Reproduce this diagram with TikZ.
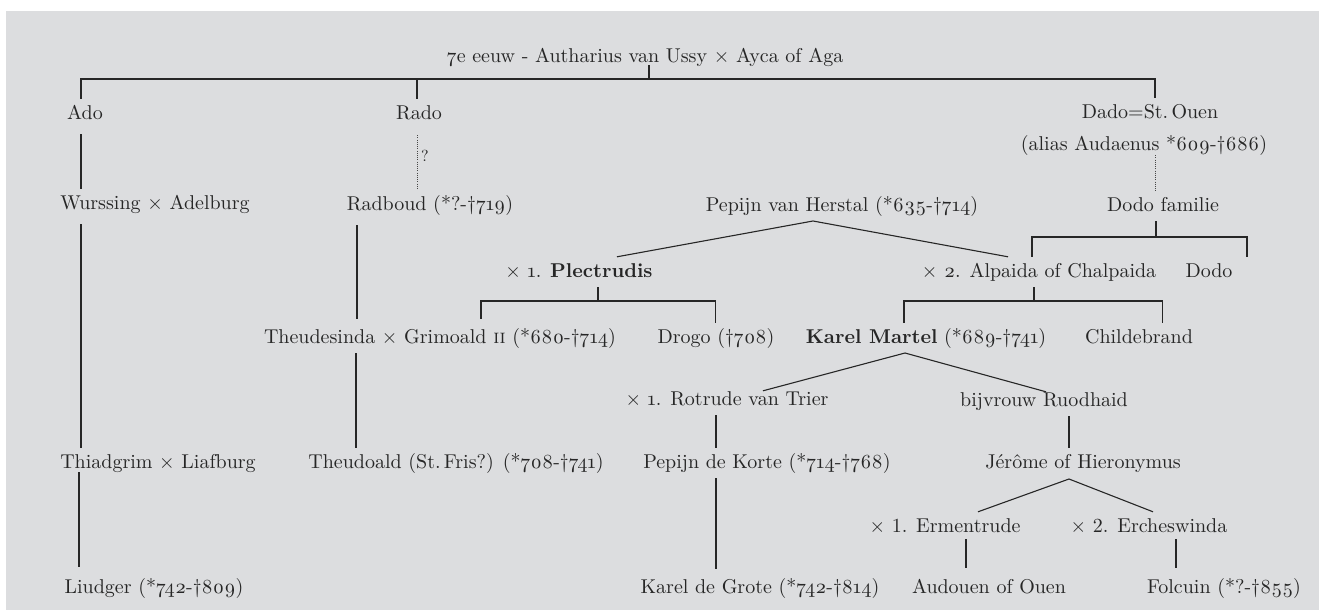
\documentclass[tikz,border=0pt]{standalone}
\usepackage{fontspec}
\setmainfont{lmroman10-regular.otf}[BoldFont=lmroman10-bold.otf, SmallCapsFont=lmromancaps10-regular.otf, Ligatures=TeX]
\usepackage{tikz}
\definecolor{bg}{RGB}{220,221,223}
\definecolor{ink}{RGB}{38,38,38}
\newcommand{\os}[1]{\oldstylenums{#1}}
\begin{document}
\begin{tikzpicture}[x=1pt,y=-1pt,
  person/.style={anchor=base, inner sep=0pt, text height=20pt, text depth=10pt,
    font=\fontsize{20}{24}\selectfont, text=ink},
  link/.style={draw=ink, line width=1.1pt},
  doubt/.style={draw=ink!85, line width=0.9pt, dash pattern=on 1pt off 1.2pt}]
\useasboundingbox (0,0) rectangle (1319,610);
\fill[bg] (6,11) rectangle (1319,610);

% nodes
\node[person, text depth=2pt] (top) at (645,63) {\os{7}e eeuw - Autharius van Ussy × Ayca of Aga};
\node[person] (ado) at (85,119) {Ado};
\node[person] (rado) at (419,119) {Rado};
\node[person] (dado) at (1150,118) {Dado=St.\,Ouen};
\node[person, text depth=5pt] (alias) at (1144,150) {(alias Audaenus *\os{609}-†\os{686})};
\node[person] (wurssing) at (155,209) {Wurssing × Adelburg};
\node[person] (radboud) at (430,210) {Radboud (*?-†\os{719})};
\node[person] (pepijn) at (842,211) {Pepijn van Herstal (*\os{635}-†\os{714})};
\node[person] (dodofam) at (1163,211) {Dodo familie};
\node[person] (plect) at (579,277) {× \os{1}. \textbf{Plectrudis}};
\node[person] (alpaida) at (1039,277) {× \os{2}. Alpaida of Chalpaida};
\node[person] (dodo) at (1209,277) {Dodo};
\node[person] (theude) at (440,343) {Theudesinda × Grimoald \textsc{ii} (*\os{680}-†\os{714})};
\node[person] (drogo) at (716,343) {Drogo (†\os{708})};
\node[person] (karel) at (926,343) {\textbf{Karel Martel} (*\os{689}-†\os{741})};
\node[person] (childe) at (1139,343) {Childebrand};
\node[person] (rotrude) at (727,405) {× \os{1}. Rotrude van Trier};
\node[person] (bijvrouw) at (1044,406) {bijvrouw Ruodhaid};
\node[person] (thiad) at (158,468) {Thiadgrim × Liafburg};
\node[person] (theudoald) at (456,468) {Theudoald (St.\,Fris?) (*\os{708}-†\os{741})};
\node[person] (pepkorte) at (767,468) {Pepijn de Korte (*\os{714}-†\os{768})};
\node[person] (jerome) at (1083,468) {Jérôme of Hieronymus};
\node[person] (ermen) at (945,532) {× 1. Ermentrude};
\node[person] (erches) at (1149,532) {× 2. Ercheswinda};
\node[person] (liudger) at (154,593) {Liudger (*\os{742}-†\os{809})};
\node[person] (karelg) at (760,593) {Karel de Grote (*\os{742}-†\os{814})};
\node[person] (audouen) at (989,593) {Audouen of Ouen};
\node[person] (folcuin) at (1224,593) {Folcuin (*?-†\os{855})};
\node[anchor=center, inner sep=0pt, font=\fontsize{16}{18}\selectfont, text=ink] (q) at (425,156) {?};

% junction coordinates
\coordinate (j0) at (649,79);
\coordinate (j0L) at (81,79);
\coordinate (j0M) at (417,79);
\coordinate (j0R) at (1155,79);
\coordinate (jp) at (813,221);
\coordinate (jpl) at (598,301);
\coordinate (jplL) at (481,301);
\coordinate (jplR) at (715.5,301);
\coordinate (jdf) at (1156,237);
\coordinate (jdfL) at (1032,237);
\coordinate (jdfR) at (1247,237);
\coordinate (jal) at (1034,301);
\coordinate (jalL) at (904,301);
\coordinate (jalR) at (1162.5,301);
\coordinate (jk) at (905,353);
\coordinate (jj) at (1069,479);

% connectors
\draw[link] (649,0 |- top.south) -- (j0);
\draw[link] (81,0 |- ado.north) -- (j0L) -- (j0R) -- (1155,0 |- dado.north);
\draw[link] (j0M) -- (417,0 |- rado.north);

\draw[link] ([yshift=-5pt]81,0 |- ado.south) -- (81,0 |- wurssing.north);
\draw[doubt] ([yshift=-6pt]417,0 |- rado.south) -- (417,0 |- radboud.north);
\draw[doubt] (1155,0 |- alias.south) -- (1155,0 |- dodofam.north);

\draw[link] ([yshift=-5pt]81,0 |- wurssing.south) -- (81,0 |- thiad.north);
\draw[link] ([yshift=6pt]79,0 |- thiad.south) -- ([yshift=6pt]79,0 |- liudger.north);
\draw[link] ([yshift=-5pt]357,0 |- radboud.south) -- ([yshift=4pt]357,0 |- theude.north);
\draw[link] (356,0 |- theude.south) -- (356,0 |- theudoald.north);

\draw[link] (617,0 |- plect.north) -- (jp) -- (1008,0 |- alpaida.north);
\draw[link] (jpl) -- (598,0 |- plect.south);
\draw[link] ([yshift=4pt]481,0 |- theude.north) -- (jplL) -- (jplR) -- (715.5,0 |- drogo.north);
\draw[link] (jdf) -- (1156,0 |- dodofam.south);
\draw[link] (1032,0 |- alpaida.north) -- (jdfL) -- (jdfR) -- (1247,0 |- dodo.north);
\draw[link] (jal) -- (1034,0 |- alpaida.south);
\draw[link] (904,0 |- karel.north) -- (jalL) -- (jalR) -- (1162.5,0 |- childe.north);

\draw[link] ([yshift=-6pt]763,0 |- rotrude.north) -- (jk) -- ([yshift=-6pt]1046,0 |- bijvrouw.north);
\draw[link] (716,0 |- rotrude.south) -- (716,0 |- pepkorte.north);
\draw[link] (716,0 |- pepkorte.south) -- ([yshift=4pt]716,0 |- karelg.north);
\draw[link] (1069,0 |- bijvrouw.south) -- (1069,0 |- jerome.north);
\draw[link] (978,0 |- ermen.north) -- (jj) -- (1153,0 |- erches.north);
\draw[link] ([yshift=3pt]966,0 |- ermen.south) -- ([yshift=5pt]966,0 |- audouen.north);
\draw[link] ([yshift=3pt]1176,0 |- erches.south) -- ([yshift=5pt]1176,0 |- folcuin.north);
\end{tikzpicture}
\end{document}
